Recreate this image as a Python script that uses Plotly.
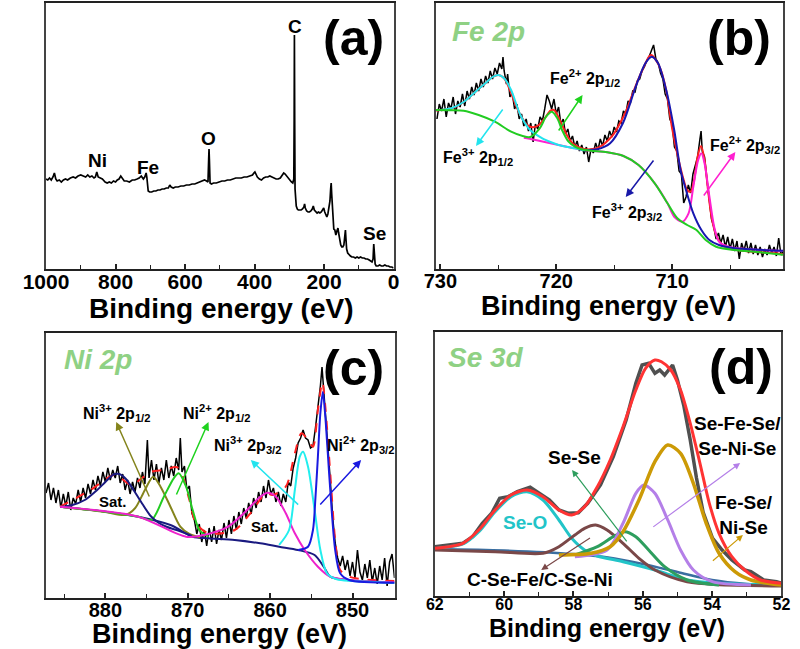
import plotly.graph_objects as go

FONT = "Liberation Sans, Arial, Helvetica, sans-serif"

# ================= (a) survey spectrum =================
survey_ev = [1000, 995, 990, 985, 980, 976, 972, 968, 962, 956, 950, 944, 938, 930, 922, 915, 908, 900,
             893, 886, 880, 874, 868, 862, 858, 854, 850, 845, 838, 830, 824, 818, 812, 806, 800, 795,
             790, 785, 780, 775, 768, 760, 752, 745, 738, 732, 726, 720, 716, 712, 710, 708, 706, 702,
             696, 690, 684, 678, 672, 666, 660, 654, 648, 644, 640, 634, 628, 620, 612, 604, 596, 588,
             580, 572, 564, 556, 550, 544, 538, 534, 532, 531, 530, 528, 524, 518, 510, 502, 494, 486,
             478, 470, 462, 454, 446, 438, 430, 422, 414, 406, 402, 399, 396, 392, 386, 380, 374, 368,
             362, 356, 350, 344, 338, 332, 326, 320, 316, 312, 306, 300, 294, 290, 287, 286, 285.3,
             284.5, 283.5, 282, 280, 277, 274, 270, 266, 262, 258, 256, 254, 250, 246, 242, 238, 234,
             231, 228, 224, 220, 216, 212, 208, 204, 201, 198, 195, 192, 189, 186, 183, 181, 179.5,
             178, 176, 174, 172, 169, 166, 163, 160, 158, 155, 152, 149, 146, 143, 140, 138.5, 137,
             135, 132, 128, 124, 120, 115, 110, 105, 100, 95, 90, 85, 80, 75, 70, 66, 62, 59, 57, 55,
             53, 50, 45, 40, 35, 30, 25, 20, 15, 10, 5, 0]
survey_int = [90, 89, 91, 89, 92, 96, 90, 88, 89, 87, 89, 90, 89, 91, 92, 91, 93, 94,
              93, 92, 94, 92, 93, 91, 92, 97, 92, 91, 90, 87, 86, 87, 86, 88, 87, 89,
              90, 93, 90, 88, 88, 87, 89, 89, 90, 91, 93, 90, 92, 96, 92, 86, 78, 77,
              77, 78, 78, 79, 79, 80, 80, 81, 81, 84, 82, 81, 82, 82, 83, 83, 84, 84,
              85, 85, 86, 87, 88, 89, 88, 87, 110, 120, 110, 86, 85, 86, 86, 87, 88, 88,
              89, 89, 90, 91, 91, 91, 92, 92, 93, 94, 96, 97, 95, 92, 90, 89, 91, 92,
              92, 93, 92, 91, 90, 90, 91, 94, 96, 95, 92, 89, 87, 86, 90, 150, 234,
              150, 80, 68, 63, 60, 59, 59, 59, 60, 62, 65, 61, 58, 57, 57, 58, 60,
              63, 59, 57, 56, 57, 56, 57, 59, 61, 57, 55, 52, 55, 60, 68, 80, 86,
              75, 58, 50, 40, 39, 34, 38, 41, 36, 29, 24, 22, 22, 24, 33, 39, 30,
              20, 16, 14, 13, 12, 12, 11, 12, 11, 12, 11, 11, 10, 10, 9, 8, 7, 10, 25, 15,
              5, 3, 3, 4, 3, 3, 4, 3, 3, 2, 2, 1]
survey_names = ["C", "O", "Ni", "Fe", "Se"]
survey_name_ev = [284.5, 533, 851, 707, 55]
survey_name_int = [242, 130, 108, 102, 36]

# ================= (b) Fe 2p =================
fe_ev = [730.3, 730.1, 729.9, 729.7, 729.5, 729.3, 729.1, 728.9, 728.7, 728.5, 728.3, 728.1, 727.9, 727.7,
         727.5, 727.3, 727.1, 726.9, 726.7, 726.5, 726.3, 726.1, 725.9, 725.7, 725.5, 725.3, 725.1, 724.9,
         724.7, 724.6, 724.5, 724.3, 724.2, 724.0, 723.8, 723.6, 723.4, 723.2, 723.0, 722.8, 722.6, 722.4,
         722.2, 722.0, 721.8, 721.6, 721.4, 721.2, 721.0, 720.8, 720.6, 720.4, 720.2, 720.0, 719.8, 719.6,
         719.4, 719.2, 719.0, 718.8, 718.6, 718.4, 718.2, 718.0, 717.8, 717.6, 717.4, 717.2, 717.0, 716.8,
         716.6, 716.4, 716.2, 716.0, 715.8, 715.6, 715.4, 715.2, 715.0, 714.8, 714.6, 714.4, 714.2, 714.0,
         713.8, 713.6, 713.4, 713.2, 713.0, 712.8, 712.6, 712.4, 712.2, 712.0, 711.8, 711.6, 711.4, 711.2,
         711.0, 710.8, 710.6, 710.4, 710.2, 710.0, 709.8, 709.6, 709.4, 709.2, 709.0, 708.8, 708.6, 708.4,
         708.2, 708.0, 707.8, 707.6, 707.5, 707.4, 707.2, 707.0, 706.8, 706.6, 706.4, 706.2, 706.0, 705.8,
         705.6, 705.4, 705.2, 705.0, 704.8, 704.6, 704.4, 704.2, 704.0, 703.8, 703.6, 703.4, 703.2, 703.0,
         702.8, 702.6, 702.4, 702.2, 702.0, 701.8, 701.6, 701.4, 701.2, 701.0, 700.8, 700.6, 700.4]
fe_int = [150, 165, 158, 170, 152, 166, 160, 172, 155, 168, 162, 175, 163, 178,
          170, 182, 174, 186, 178, 190, 182, 193, 186, 198, 190, 201, 195, 206,
          200, 212, 198, 185, 195, 172, 176, 160, 165, 150, 155, 143, 150, 138,
          146, 127, 145, 140, 152, 148, 160, 174, 168, 160, 170, 155, 162, 145,
          150, 135, 140, 128, 133, 122, 128, 118, 124, 115, 122, 107, 120, 116,
          126, 119, 130, 123, 134, 128, 138, 132, 142, 137, 148, 146, 158, 155,
          168, 166, 178, 177, 188, 190, 198, 202, 208, 212, 218, 224, 210, 206,
          196, 190, 175, 170, 150, 145, 122, 118, 98, 95, 66, 72, 84, 76,
          95, 105, 112, 130, 138, 118, 112, 90, 72, 50, 42, 30, 36, 26,
          34, 22, 32, 20, 30, 18, 28, 10, 26, 18, 28, 16, 26, 15,
          24, 14, 22, 12, 20, 14, 24, 16, 22, 13, 31, 14, 18]
fe_fit_ev = [730.4, 730, 729, 728, 727, 726, 725.5, 725, 724.5, 724, 723.5, 723, 722.5, 722, 721.5, 721,
             720.5, 720.2, 720, 719.5, 719, 718.5, 718, 717.5, 717, 716.5, 716, 715.5, 715, 714.5, 714,
             713.5, 713, 712.5, 712, 711.8, 711.5, 711, 710.5, 710, 709.5, 709, 708.7, 708.4, 708.1,
             707.8, 707.5, 707.2, 706.9, 706.6, 706.2, 705.8, 705.2, 704.5, 703, 701, 700.4]
fe_fit_int = [158.5, 159, 160.7, 167, 177, 187, 192, 194, 190.7, 179, 164, 152, 144, 141.7, 144, 150.7,
              158.3, 159, 156.3, 144, 132.3, 124.7, 121.7, 119.7, 119.7, 120.7, 124, 129, 135.7, 145.7, 157.3,
              172.3, 187.3, 200.7, 212.3, 214, 210.7, 200, 178, 140.7, 112.3, 89, 79, 77.3, 89,
              112.3, 123, 109, 79, 52.3, 34, 25.7, 20.7, 19, 17.3, 15.7, 14.7]
fe2_12_ev = [730.4, 729.0, 728.0, 726.7, 725.3, 723.9, 722.9, 722.26, 721.43, 720.88, 720.38, 719.91, 719.5,
             718.94, 718.39, 717.84, 717.0, 715.6, 714.2, 712.9, 711.5, 710.4, 709.55, 708.7, 707.9, 707.1,
             706.2, 704.6, 702.4, 700.4]
fe2_12_int = [159, 158.8, 158.3, 154, 147.3, 137.3, 133, 132, 140.7, 152.3, 157.3, 150.7, 139,
              127.3, 122.3, 119.7, 118.3, 116.7, 113, 104, 85.7, 65.7, 50.7, 44, 39, 29,
              22.3, 19, 16.7, 14.3]
fe3_12_ev = [730.0, 729.0, 728.0, 727.0, 726.0, 725.5, 725.0, 724.5, 723.9, 723.1, 722.26, 721.2, 720.5,
             719.8, 719.0, 718.4, 717.5]
fe3_12_int = [159, 161, 167, 177, 187, 192, 194, 190.7, 179, 154, 139, 130.7, 127, 124, 122, 120.7, 118.5]
fe3_32_ev = [717.84, 716.46, 715.35, 714.25, 713.14, 712.31, 711.76, 711.21, 710.51, 709.82, 709.27, 708.72,
             708.17, 707.47, 706.78, 705.95, 704.57, 700.4]
fe3_32_int = [119, 119.7, 125.7, 145.7, 182.3, 205.7, 212.3, 205.7, 179, 139, 99, 75.7,
              55.7, 39, 29, 24, 20.7, 18.3]
fe2_32_ev = [722.8, 722.0, 721.0, 720.0, 719.0, 718.0, 717.0, 715.6, 714.2, 712.9, 711.5, 710.4, 709.82,
             709.13, 708.58, 708.17, 707.75, 707.47, 707.2, 706.78, 706.37, 705.95, 705.13, 703.2, 700.4]
fe2_32_int = [131.3, 129.5, 127, 124.5, 122, 119.8, 118.3, 116.7, 113, 104, 85.7, 65.7, 52.3,
              47.3, 55.7, 82.3, 109, 115.7, 105.7, 72.3, 42.3, 27.3, 22.3, 19.7, 18]
fe_labels = ["Fe<sup>2+</sup> 2p<sub>1/2</sub>", "Fe<sup>3+</sup> 2p<sub>1/2</sub>",
             "Fe<sup>3+</sup> 2p<sub>3/2</sub>", "Fe<sup>2+</sup> 2p<sub>3/2</sub>"]
fe_label_ev = [717.48, 726.77, 713.91, 703.71]
fe_label_int = [191, 112, 57, 124]
fe_arrow_tail_ev = [719.88, 724.53, 711.51, 707.36]
fe_arrow_tail_int = [137, 161, 110, 72]
fe_arrow_head_ev = [717.73, 726.93, 714.0, 704.54]
fe_arrow_head_int = [174, 123, 72, 117]
fe_arrow_colors = ["#1ed21e", "#22e4ee", "#1818a8", "#ff20d0"]

# ================= (c) Ni 2p =================
ni_ev = [887.2, 886.9, 886.6, 886.3, 886.0, 885.7, 885.4, 885.1, 884.8, 884.5, 884.2, 883.9, 883.6, 883.3,
         883.0, 882.7, 882.4, 882.1, 881.8, 881.5, 881.2, 880.9, 880.6, 880.3, 880.0, 879.7, 879.4, 879.1,
         878.8, 878.5, 878.2, 877.9, 877.6, 877.3, 877.0, 876.7, 876.4, 876.1, 875.8, 875.5, 875.2, 874.9,
         874.7, 874.4, 874.1, 873.8, 873.5, 873.2, 872.9, 872.6, 872.3, 872.0, 871.7, 871.4, 871.1, 870.9,
         870.7, 870.4, 870.1, 869.8, 869.5, 869.2, 868.9, 868.6, 868.3, 868.0, 867.7, 867.4, 867.1, 866.8,
         866.5, 866.2, 865.9, 865.6, 865.3, 865.0, 864.7, 864.4, 864.1, 863.8, 863.5, 863.2, 862.9, 862.6,
         862.3, 862.0, 861.7, 861.4, 861.1, 860.8, 860.5, 860.2, 859.9, 859.6, 859.3, 859.0, 858.7, 858.4,
         858.1, 857.8, 857.5, 857.2, 856.9, 856.6, 856.3, 856.0, 855.7, 855.4, 855.1, 854.8, 854.5, 854.2,
         853.9, 853.7, 853.5, 853.3, 853.0, 852.7, 852.4, 852.1, 851.8, 851.5, 851.2, 850.9, 850.6, 850.3,
         850.0, 849.7, 849.4, 849.1, 848.8, 848.5, 848.2, 847.9, 847.6, 847.3, 847.0, 846.7, 846.4, 846.1,
         845.8, 845.5, 845.2, 844.9]
ni_int = [105, 115, 98, 110, 95, 108, 90, 104, 92, 106, 88, 100, 94, 108,
          96, 110, 100, 114, 104, 118, 108, 122, 112, 126, 116, 130, 118, 128,
          120, 132, 115, 124, 108, 118, 104, 116, 106, 120, 110, 126, 114, 158,
          120, 138, 118, 134, 115, 130, 118, 138, 120, 132, 122, 140, 128, 160,
          126, 132, 108, 112, 85, 78, 64, 74, 56, 68, 52, 70, 56, 72,
          54, 68, 58, 75, 60, 78, 64, 82, 68, 86, 74, 90, 80, 95,
          84, 100, 90, 106, 96, 112, 100, 118, 104, 110, 96, 106, 92, 104,
          96, 116, 112, 130, 140, 155, 160, 168, 160, 158, 150, 152, 170, 190,
          212, 231, 210, 190, 150, 118, 80, 55, 40, 32, 42, 28, 38, 22,
          36, 20, 48, 26, 18, 34, 20, 38, 16, 30, 14, 32, 18, 40,
          12, 36, 44, 20]
ni_fit_ev = [885.5, 881.8, 878.9, 876.8, 875.6, 874.4, 872.9, 871.3, 870.6, 869.8, 869.0, 867.5, 864.3,
             862.4, 860.5, 859.7, 858.1, 857.0, 856.2, 855.4, 854.8, 854.2, 853.66, 853.3, 852.7, 852.1,
             851.5, 850.4, 848.8, 844.9]
ni_fit_int = [91.3, 108, 123, 113, 119.7, 126.3, 128, 130.7, 121.3, 98, 74.7, 64.7, 68,
              84.7, 104.7, 103, 111.3, 144.7, 164.7, 158, 151.3, 188, 216, 191.3, 124.7, 58,
              28, 21.3, 18.7, 17]
ni_bg_ev = [885.5, 880, 876, 872.1, 869.4, 867.5, 864.3, 861.2, 858.9, 856.6, 854.6, 853.5, 852.7, 850.7, 844.9]
ni_bg_int = [91.3, 86.3, 81.3, 73, 61.3, 59.7, 58, 54.7, 51.3, 48, 43, 31.3, 21.3, 18, 15.3]
ni_sat1_ev = [885.5, 884, 882.5, 881, 880, 879, 878.3, 877.5, 876.5, 875.5, 874.5, 873.5, 872.5, 871, 869.5]
ni_sat1_int = [91, 93, 98, 108, 116, 123.5, 124, 119, 107, 94, 82, 75, 71, 67, 62]
ni3_12_ev = [885.5, 880, 877.6, 876.4, 875.2, 874.2, 873.3, 872.1, 870.9, 869.8, 868.5]
ni3_12_int = [91.3, 86, 83, 89.7, 108, 121.3, 111.3, 91.3, 71.3, 64, 60.5]
ni2_12_ev = [885.5, 880, 876, 874.4, 872.9, 871.7, 871.1, 870.2, 869.4, 868.6, 867.5]
ni2_12_int = [91.3, 86.3, 81.3, 78, 101.3, 119.7, 124.7, 111.3, 88, 68, 61.3]
ni_sat2_ev = [885.5, 876, 870.2, 867.5, 865.1, 863.2, 861.2, 860.3, 859.3, 858.1, 857, 855.8, 854.2,
              852.7, 850.7, 844.9]
ni_sat2_int = [91.3, 81.3, 61.3, 64, 71.3, 84.7, 101.3, 105.3, 101.3, 84.7, 64.7, 48, 31.3,
               21.3, 18, 15.7]
ni3_32_ev = [858.9, 857.7, 857.0, 856.4, 856.0, 855.4, 854.6, 853.9, 853.1, 851.9, 850.0, 844.9]
ni3_32_int = [53, 68, 108, 141.3, 146.3, 131.3, 88, 48, 24.7, 18.7, 17, 15]
ni2_32_ev = [856.6, 855.4, 854.8, 854.5, 854.2, 853.9, 853.6, 853.3, 853.0, 852.7, 852.1, 851.5, 850.4, 844.9]
ni2_32_int = [48, 51.3, 68, 100, 141.3, 185, 206, 181.3, 145, 108, 48, 24.7, 18, 15.3]
ni_labels = ["Ni<sup>3+</sup> 2p<sub>1/2</sub>", "Ni<sup>2+</sup> 2p<sub>1/2</sub>",
             "Ni<sup>3+</sup> 2p<sub>3/2</sub>", "Ni<sup>2+</sup> 2p<sub>3/2</sub>", "Sat.", "Sat."]
ni_label_ev = [878.68, 866.56, 862.72, 848.97, 879.03, 860.6]
ni_label_int = [185, 185, 153, 153, 96, 71]
ni_arrow_tail_ev = [874.59, 871.45, 856.41, 854.08]
ni_arrow_tail_int = [100, 102, 92, 92]
ni_arrow_head_ev = [878.68, 867.48, 862.35, 848.95]
ni_arrow_head_int = [176, 176, 138, 138]
ni_arrow_colors = ["#84841c", "#1ed21e", "#22e4ee", "#1a1ae0"]

# ================= (d) Se 3d =================
se_ev = [62.0, 61.65, 61.19, 60.91, 60.63, 60.36, 60.13, 59.89, 59.62, 59.25, 58.97, 58.69, 58.42, 58.14,
         57.86, 57.59, 57.22, 56.85, 56.48, 56.2, 56.02, 55.83, 55.65, 55.51, 55.37, 55.14, 55.0, 54.82,
         54.63, 54.45, 54.26, 53.99, 53.71, 53.43, 53.06, 52.88, 52.51, 52.14, 52.0]
se_int = [49.3, 51, 52.7, 59.3, 72.7, 82.7, 97.7, 99.3, 104.3, 108.7, 102, 96, 86, 82.7,
          83.3, 92.7, 111, 139.3, 176, 212.7, 231, 232.7, 222.7, 226, 221, 231, 216, 191,
          156, 118, 84, 58, 46, 36, 26, 24.3, 16, 14.3, 12.7]
se_fit_ev = [62.0, 61.19, 60.73, 60.26, 59.8, 59.34, 58.88, 58.42, 58.05, 57.68, 57.31, 56.94, 56.57, 56.2,
             55.92, 55.65, 55.46, 55.19, 54.91, 54.63, 54.35, 54.08, 53.8, 53.43, 53.06, 52.6, 52.0]
se_fit_int = [47.7, 52.7, 66, 86, 101, 106, 99.3, 86, 81, 89.3, 109.3, 136, 169.3, 206,
              227.7, 236, 234.3, 226, 206, 172.7, 132.7, 92.7, 62.7, 39.3, 26, 16, 12.7]
se_bg_ev = [62, 60, 58, 57, 56, 55, 54, 53, 52]
se_bg_int = [47, 45.5, 42, 38.5, 32, 24, 16, 12, 10.5]
se_o_ev = [62.0, 61.19, 60.73, 60.26, 59.8, 59.34, 58.88, 58.42, 58.05, 57.68, 57.31, 56.57, 55.65,
           54.72, 53.8, 52.0]
se_o_int = [47.3, 52, 64.3, 84.3, 99.3, 104.3, 96, 76, 57.7, 46, 40, 34.3, 26, 16, 12.7, 11]
cse_ev = [62.0, 60.26, 58.88, 58.42, 57.96, 57.68, 57.36, 57.03, 56.57, 56.11, 55.65, 54.72, 52.0]
cse_int = [46, 44.3, 42.7, 49.3, 61, 67.7, 71, 66, 52.7, 37.7, 26, 14.3, 10]
sese_ev = [57.96, 57.31, 56.85, 56.52, 56.2, 55.83, 55.37, 54.72, 53.8]
sese_int = [41, 49.3, 59.3, 64.3, 59.3, 46, 29.3, 16, 11]
sefese_ev = [57.96, 57.03, 56.57, 56.2, 55.97, 55.65, 55.28, 54.91, 54.54, 53.99, 52.88]
sefese_int = [39.3, 46, 72.7, 102.7, 111, 102.7, 76, 46, 26, 14.3, 11]
fese_ev = [58.42, 57.49, 56.94, 56.57, 56.11, 55.65, 55.28, 54.91, 54.54, 54.17, 53.8, 53.34, 52.88, 52.0]
fese_int = [41, 42.7, 49.3, 64.3, 96, 134.3, 151, 142.7, 112.7, 72.7, 42.7, 24.3, 16, 11]
se_labels = ["Se-Se", "Se-Fe-Se/<br>Se-Ni-Se", "Fe-Se/<br>Ni-Se", "Se-O", "C-Se-Fe/C-Se-Ni"]
se_label_ev = [57.96, 53.27, 53.08, 59.4, 58.98]
se_label_int = [139, 160, 81, 73, 16]
se_label_colors = ["black", "black", "black", "#22c4c8", "black"]
se_arrow_tail_ev = [56.43, 55.74, 54.02, 57.48]
se_arrow_tail_int = [53, 68, 34, 59]
se_arrow_head_ev = [58.04, 53.19, 53.11, 58.93]
se_arrow_head_int = [126, 133, 61, 26]
se_arrow_colors = ["#2e9e5e", "#b47fe8", "#cc9a06", "#7a4848"]

# ================= figure =================
fig = go.Figure()


def line(x, y, color, width, ax, shape="spline", dash="solid"):
    fig.add_trace(go.Scatter(x=x, y=y, mode="lines", xaxis=ax[0], yaxis=ax[1],
                             line=dict(color=color, width=width, shape=shape, dash=dash,
                                       smoothing=0.8 if shape == "spline" else None),
                             showlegend=False, hoverinfo="skip"))


A = ("x", "y"); B = ("x2", "y2"); C = ("x3", "y3"); D = ("x4", "y4")

# (a)
line(survey_ev, survey_int, "black", 1.7, A, shape="linear")
# (b)
line(fe_ev, fe_int, "black", 1.5, B, shape="linear")
line(fe_fit_ev, fe_fit_int, "#ff2020", 2, B)
line(fe2_32_ev, fe2_32_int, "#ff20d0", 2, B)
line(fe3_32_ev, fe3_32_int, "#1818b0", 2, B)
line(fe3_12_ev, fe3_12_int, "#22e4ee", 2, B)
line(fe2_12_ev, fe2_12_int, "#22cc22", 2, B)
# (c)
line(ni_ev, ni_int, "black", 1.5, C, shape="linear")
line(ni_fit_ev, ni_fit_int, "#ff2020", 2, C, dash="dash")
line(ni_bg_ev, ni_bg_int, "#1a1a80", 2, C)
line(ni3_12_ev, ni3_12_int, "#84841c", 2, C)
line(ni2_12_ev, ni2_12_int, "#22cc22", 2, C)
line(ni_sat1_ev, ni_sat1_int, "#1a1a80", 2, C)
line(ni_sat2_ev, ni_sat2_int, "#ee22cc", 2, C)
line(ni3_32_ev, ni3_32_int, "#22eeee", 2, C)
line(ni2_32_ev, ni2_32_int, "#1a1ae0", 2, C)
# (d)
line(se_bg_ev, se_bg_int, "#3a6ea0", 2.5, D)
line(se_ev, se_int, "#505050", 3.5, D, shape="linear")
line(se_o_ev, se_o_int, "#22c4c8", 3, D)
line(cse_ev, cse_int, "#7a4848", 3, D)
line(sese_ev, sese_int, "#2e9e5e", 3, D)
line(sefese_ev, sefese_int, "#b47fe8", 3, D)
line(fese_ev, fese_int, "#cc9a06", 3.5, D)
line(se_fit_ev, se_fit_int, "#ff3333", 3, D)


def xaxis(domain, rng, dtick, minor_dtick, size, anchor):
    return dict(domain=domain, range=rng, anchor=anchor, showgrid=False, zeroline=False,
                showline=True, linecolor="#222", linewidth=2, mirror=True,
                ticks="inside", ticklen=5, tickwidth=1.5, tickcolor="#222", dtick=dtick, tick0=0,
                ticklabelstandoff=-7,
                minor=dict(ticks="inside", ticklen=4, tickwidth=1.2, tickcolor="#222", dtick=minor_dtick),
                tickfont=dict(family=FONT, size=size, color="black", weight="bold"))


def yaxis(domain, rng, anchor):
    return dict(domain=domain, range=rng, anchor=anchor, showgrid=False, zeroline=False,
                showline=True, linecolor="#444", linewidth=2, mirror=True,
                ticks="", showticklabels=False)


fig.update_layout(
    width=800, height=649, margin=dict(l=0, r=0, t=0, b=0),
    paper_bgcolor="white", plot_bgcolor="white",
    xaxis=xaxis([0.030, 0.4825], [1000, 0], 200, 100, 21, "y"),
    yaxis=yaxis([0.5855, 0.9954], [0, 266], "x"),
    xaxis2=xaxis([0.5375, 0.99], [730.4, 700.4], 10, 5, 20, "y2"),
    yaxis2=yaxis([0.5855, 0.9954], [0, 266], "x2"),
    xaxis3=xaxis([0.030, 0.48375], [887.2, 844.9], 10, 5, 20, "y3"),
    yaxis3=yaxis([0.0786, 0.4869], [0, 265], "x3"),
    xaxis4=xaxis([0.53625, 0.9875], [62, 52], 2, 1, 16, "y4"),
    yaxis4=yaxis([0.0817, 0.4884], [0, 264], "x4"),
)

ann = []


def text(x, y, t, ref, size, color="black", italic=False):
    s = "<b><i>%s</i></b>" % t if italic else "<b>%s</b>" % t
    ann.append(dict(x=x, y=y, xref=ref[0], yref=ref[1], text=s, showarrow=False,
                    xanchor="center", yanchor="middle",
                    font=dict(family=FONT, size=size, color=color)))


def arrow(tx, ty, hx, hy, ref, color, width=1.5):
    ann.append(dict(x=hx, y=hy, ax=tx, ay=ty, xref=ref[0], yref=ref[1], axref=ref[0], ayref=ref[1],
                    text="", showarrow=True, arrowhead=2, arrowsize=1.1, arrowwidth=width,
                    arrowcolor=color, standoff=0, startstandoff=0))


# axis titles
for px, py, size in [(0.2575, 0.5239, 28), (0.7625, 0.5285, 27), (0.256, 0.0231, 27), (0.761, 0.0324, 25)]:
    text(px, py, "Binding energy (eV)", ("paper", "paper"), size)

# panel letters and headings
text(116, 231, "(a)", A, 50)
text(704.2, 231, "(b)", B, 50)
text(849.9, 230, "(c)", C, 50)
text(53.16, 229, "(d)", D, 50)
text(725.85, 237, "Fe 2p", B, 28, "#8fd184", italic=True)
text(880.9, 239, "Ni 2p", C, 28, "#8fd184", italic=True)
text(60.53, 239, "Se 3d", D, 28, "#8fd184", italic=True)

for n, e, i in zip(survey_names, survey_name_ev, survey_name_int):
    text(e, i, n, A, 19)

for t, e, i in zip(fe_labels, fe_label_ev, fe_label_int):
    text(e, i, t, B, 16)
for te, ti, he, hi, c in zip(fe_arrow_tail_ev, fe_arrow_tail_int, fe_arrow_head_ev, fe_arrow_head_int, fe_arrow_colors):
    arrow(te, ti, he, hi, B, c)

for t, e, i in zip(ni_labels, ni_label_ev, ni_label_int):
    text(e, i, t, C, 16 if t != "Sat." else 15)
for te, ti, he, hi, c in zip(ni_arrow_tail_ev, ni_arrow_tail_int, ni_arrow_head_ev, ni_arrow_head_int, ni_arrow_colors):
    arrow(te, ti, he, hi, C, c)

for t, e, i, c in zip(se_labels, se_label_ev, se_label_int, se_label_colors):
    text(e, i, t, D, 19, c)
for te, ti, he, hi, c in zip(se_arrow_tail_ev, se_arrow_tail_int, se_arrow_head_ev, se_arrow_head_int, se_arrow_colors):
    arrow(te, ti, he, hi, D, c, 1.2)

fig.update_layout(annotations=ann)

fig.write_html("out.html", config={"displayModeBar": False},
               post_script="document.body.style.margin='0px';")
